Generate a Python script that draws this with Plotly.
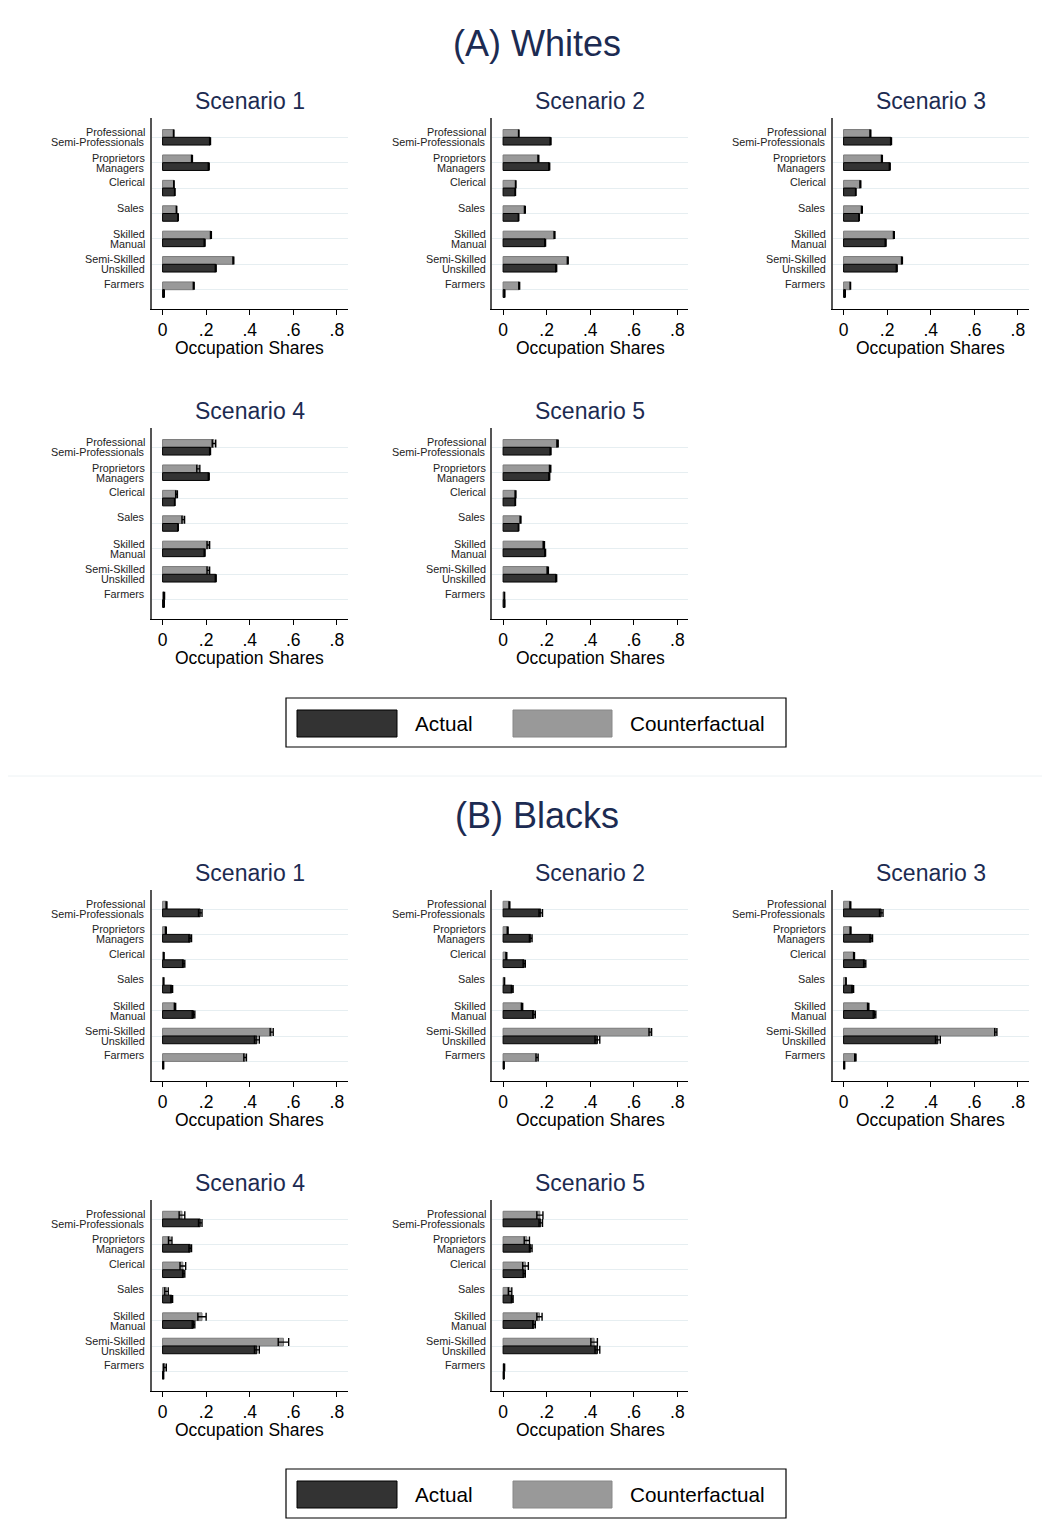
import plotly.graph_objects as go

# ---------------- data ----------------
categories = ["Professional<br>Semi-Professionals", "Proprietors<br>Managers", "Clerical", "Sales",
              "Skilled<br>Manual", "Semi-Skilled<br>Unskilled", "Farmers"]
tick_vals = [0, 0.2, 0.4, 0.6, 0.8]
tick_text = ["0", ".2", ".4", ".6", ".8"]
scenario_names = ["Scenario 1", "Scenario 2", "Scenario 3", "Scenario 4", "Scenario 5"]
series_names = ["Actual", "Counterfactual"]
x_title = "Occupation Shares"

whites_actual = [0.218, 0.212, 0.056, 0.071, 0.193, 0.244, 0.007]
whites_actual_err = [0.002, 0.002, 0.001, 0.001, 0.002, 0.002, 0.001]
whites_cf_s1 = [0.051, 0.135, 0.052, 0.064, 0.222, 0.325, 0.143]
whites_cf_s1_err = [0.001, 0.002, 0.001, 0.001, 0.002, 0.002, 0.002]
whites_cf_s2 = [0.072, 0.162, 0.058, 0.100, 0.236, 0.297, 0.074]
whites_cf_s2_err = [0.001, 0.002, 0.001, 0.002, 0.002, 0.002, 0.002]
whites_cf_s3 = [0.123, 0.176, 0.077, 0.084, 0.231, 0.268, 0.031]
whites_cf_s3_err = [0.002, 0.002, 0.002, 0.002, 0.002, 0.002, 0.001]
whites_cf_s4 = [0.236, 0.164, 0.064, 0.095, 0.210, 0.210, 0.007]
whites_cf_s4_err = [0.008, 0.007, 0.004, 0.006, 0.006, 0.006, 0.002]
whites_cf_s5 = [0.250, 0.216, 0.057, 0.080, 0.187, 0.205, 0.006]
whites_cf_s5_err = [0.003, 0.003, 0.002, 0.002, 0.003, 0.003, 0.001]

blacks_actual = [0.173, 0.127, 0.097, 0.042, 0.142, 0.433, 0.004]
blacks_actual_err = [0.008, 0.006, 0.005, 0.004, 0.006, 0.011, 0.001]
blacks_cf_s1 = [0.018, 0.015, 0.006, 0.005, 0.057, 0.501, 0.379]
blacks_cf_s1_err = [0.002, 0.002, 0.001, 0.001, 0.003, 0.007, 0.006]
blacks_cf_s2 = [0.029, 0.021, 0.015, 0.006, 0.087, 0.676, 0.156]
blacks_cf_s2_err = [0.002, 0.002, 0.002, 0.001, 0.003, 0.006, 0.005]
blacks_cf_s3 = [0.031, 0.032, 0.048, 0.011, 0.113, 0.699, 0.054]
blacks_cf_s3_err = [0.002, 0.002, 0.002, 0.001, 0.003, 0.005, 0.003]
blacks_cf_s4 = [0.089, 0.035, 0.093, 0.018, 0.181, 0.555, 0.011]
blacks_cf_s4_err = [0.013, 0.008, 0.013, 0.008, 0.019, 0.024, 0.006]
blacks_cf_s5 = [0.169, 0.109, 0.103, 0.032, 0.167, 0.418, 0.005]
blacks_cf_s5_err = [0.014, 0.012, 0.013, 0.008, 0.012, 0.015, 0.002]

# ---------------- styling / layout ----------------
# The page body has an 8px margin, so the figure is 16px smaller than the window
OFF = 8
W, H = 1050 - 2 * OFF, 1530 - 2 * OFF
FONT = "Liberation Sans, Arial, Helvetica, sans-serif"
NAVY = "#1c2b52"
DARK = "#333333"
GRAY = "#999999"

col_left = [151.7, 492.2, 832.7]
plot_w = 196.0
row_top = [118.0, 428.0, 889.7, 1199.7]
plot_h = 191.0


def fx(x):
    return (x - OFF) / W


def fy(y):
    return 1 - (y - OFF) / H


panels = [
    (0, 0, 0, whites_cf_s1, whites_cf_s1_err, whites_actual, whites_actual_err),
    (1, 0, 1, whites_cf_s2, whites_cf_s2_err, whites_actual, whites_actual_err),
    (2, 0, 2, whites_cf_s3, whites_cf_s3_err, whites_actual, whites_actual_err),
    (3, 1, 0, whites_cf_s4, whites_cf_s4_err, whites_actual, whites_actual_err),
    (4, 1, 1, whites_cf_s5, whites_cf_s5_err, whites_actual, whites_actual_err),
    (0, 2, 0, blacks_cf_s1, blacks_cf_s1_err, blacks_actual, blacks_actual_err),
    (1, 2, 1, blacks_cf_s2, blacks_cf_s2_err, blacks_actual, blacks_actual_err),
    (2, 2, 2, blacks_cf_s3, blacks_cf_s3_err, blacks_actual, blacks_actual_err),
    (3, 3, 0, blacks_cf_s4, blacks_cf_s4_err, blacks_actual, blacks_actual_err),
    (4, 3, 1, blacks_cf_s5, blacks_cf_s5_err, blacks_actual, blacks_actual_err),
]

fig = go.Figure()
layout_axes = {}
annotations = []
ncat = len(categories)

for k, (sc, r, c, cf, cf_err, act, act_err) in enumerate(panels, start=1):
    xa = "x" if k == 1 else f"x{k}"
    ya = "y" if k == 1 else f"y{k}"
    xkey = "xaxis" if k == 1 else f"xaxis{k}"
    ykey = "yaxis" if k == 1 else f"yaxis{k}"

    fig.add_trace(go.Bar(
        y=categories, x=cf, orientation="h", name=series_names[1],
        marker=dict(color=GRAY, line=dict(color="#7a7a7a", width=1)),
        error_x=dict(type="data", array=cf_err, color="black", thickness=1.4, width=4),
        xaxis=xa, yaxis=ya, showlegend=False))
    fig.add_trace(go.Bar(
        y=categories, x=act, orientation="h", name=series_names[0],
        marker=dict(color=DARK, line=dict(color="black", width=1)),
        error_x=dict(type="data", array=act_err, color="black", thickness=1.4, width=4),
        xaxis=xa, yaxis=ya, showlegend=False))

    x0 = col_left[c]
    y0 = row_top[r]
    layout_axes[xkey] = dict(
        domain=[fx(x0), fx(x0 + plot_w)], anchor=ya, range=[-0.05, 0.85],
        tickvals=tick_vals, ticktext=tick_text, ticks="outside", ticklen=5,
        tickwidth=1, tickcolor="black", showline=True, linecolor="black",
        linewidth=1, showgrid=False, zeroline=False,
        tickfont=dict(size=17.5, color="black", family=FONT), fixedrange=True)
    layout_axes[ykey] = dict(
        domain=[fy(y0 + plot_h), fy(y0)], anchor=xa, type="category",
        categoryorder="array", categoryarray=categories,
        range=[ncat - 1 + 0.76, -0.76], showticklabels=False, ticks="",
        showgrid=True, gridcolor="#e6eef1", gridwidth=1, showline=True,
        linecolor="#555555", linewidth=1.6, zeroline=False, fixedrange=True)

    dom_x = f"{xa} domain"
    dom_y = f"{ya} domain"
    # panel title
    annotations.append(dict(text=scenario_names[sc], xref=dom_x, yref=dom_y, x=0.5, y=1,
                            yshift=17, xanchor="center", yanchor="middle", showarrow=False,
                            font=dict(size=23, color=NAVY, family=FONT)))
    # x-axis title
    annotations.append(dict(text=x_title, xref=dom_x, yref=dom_y, x=0.5, y=0,
                            yshift=-39, xanchor="center", yanchor="middle", showarrow=False,
                            font=dict(size=17.5, color="black", family=FONT)))
    # category labels (tight two-line spacing as in the original)
    for i, cat in enumerate(categories):
        lines = cat.split("<br>")
        shifts = [5, -5] if len(lines) == 2 else [6]
        for line, sh in zip(lines, shifts):
            annotations.append(dict(text=line, xref=dom_x, yref=ya, x=0, y=i,
                                    xshift=-4.4, yshift=sh, xanchor="right", yanchor="middle",
                                    showarrow=False,
                                    font=dict(size=10.8, color="#222222", family=FONT)))

# section titles
section_titles = ["(A) Whites", "(B) Blacks"]
section_title_y = [44, 815]
for t, yy in zip(section_titles, section_title_y):
    annotations.append(dict(text=t, xref="paper", yref="paper", x=fx(537), y=fy(yy),
                            xanchor="center", yanchor="middle", showarrow=False,
                            font=dict(size=36, color=NAVY, family=FONT)))

# legends (drawn as a boxed key like the original)
shapes = []
for sep in [5, 776]:
    shapes.append(dict(type="line", xref="paper", yref="paper", x0=0, x1=1, y0=fy(sep), y1=fy(sep),
                       line=dict(color="#edf2f4", width=1)))

legend_top = [698, 1469]
for lt in legend_top:
    shapes.append(dict(type="rect", xref="paper", yref="paper", x0=fx(286), x1=fx(786),
                       y0=fy(lt + 49), y1=fy(lt), line=dict(color="black", width=1.2),
                       fillcolor="white"))
    shapes.append(dict(type="rect", xref="paper", yref="paper", x0=fx(297), x1=fx(397),
                       y0=fy(lt + 39), y1=fy(lt + 12), line=dict(color="black", width=1),
                       fillcolor=DARK))
    shapes.append(dict(type="rect", xref="paper", yref="paper", x0=fx(513), x1=fx(612),
                       y0=fy(lt + 39), y1=fy(lt + 12), line=dict(color="#888888", width=1),
                       fillcolor=GRAY))
    annotations.append(dict(text=series_names[0], xref="paper", yref="paper", x=fx(413),
                            y=fy(lt + 25.5), xanchor="left", yanchor="middle", showarrow=False,
                            font=dict(size=20.7, color="black", family=FONT)))
    annotations.append(dict(text=series_names[1], xref="paper", yref="paper", x=fx(628),
                            y=fy(lt + 25.5), xanchor="left", yanchor="middle", showarrow=False,
                            font=dict(size=20.7, color="black", family=FONT)))

fig.update_layout(
    width=W, height=H, margin=dict(l=0, r=0, t=0, b=0),
    paper_bgcolor="white", plot_bgcolor="white",
    barmode="group", bargap=0.39, bargroupgap=0,
    font=dict(family=FONT), showlegend=False,
    annotations=annotations, shapes=shapes, **layout_axes)

fig.write_html("out.html")
